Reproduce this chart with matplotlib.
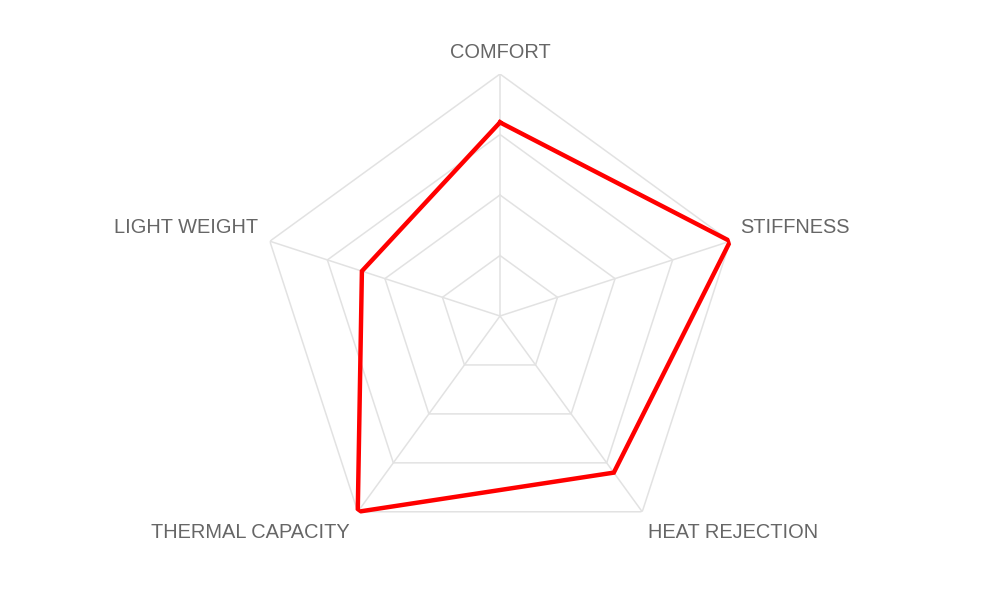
import numpy as np
import matplotlib
matplotlib.use("Agg")
import matplotlib.pyplot as plt

categories = ['COMFORT', 'STIFFNESS', 'HEAT REJECTION', 'THERMAL CAPACITY', 'LIGHT WEIGHT']
values = [80, 100, 80, 100, 60]
grid_levels = [25, 50, 75, 100]

# pixel offsets for the point labels, relative to the outer vertex
label_offsets = [(0, 21, 'center'), (10, 14, 'left'), (6, -21, 'left'),
                 (-8, -21, 'right'), (-12, 14, 'right')]

plt.rcParams['font.family'] = ['Liberation Sans', 'DejaVu Sans']

fig = plt.figure(figsize=(10, 6), dpi=100)
# center at (500, 316) px, radius 242 px
ax = fig.add_axes([0.258, 42 / 600, 0.484, 484 / 600], projection='polar')
ax.set_theta_offset(np.pi / 2)
ax.set_theta_direction(-1)
ax.set_ylim(0, 100)

n = len(categories)
theta = np.linspace(0, 2 * np.pi, n, endpoint=False)
theta_closed = np.append(theta, theta[0])

grid_color = '#e2e2e2'
for lvl in grid_levels:
    ax.plot(theta_closed, [lvl] * (n + 1), color=grid_color, lw=1.1, zorder=1)
for t in theta:
    ax.plot([t, t], [0, grid_levels[-1]], color=grid_color, lw=1.1, zorder=1)

vals = values + values[:1]
ax.plot(theta_closed, vals, color='#ff0000', lw=3.2, zorder=3, solid_joinstyle='miter')

for t, name, (dx, dy, ha) in zip(theta, categories, label_offsets):
    ax.annotate(name, xy=(t, grid_levels[-1]), xytext=(dx, dy),
                textcoords='offset pixels', ha=ha, va='center',
                fontsize=14.4, color='#666666', annotation_clip=False)

ax.grid(False)
ax.set_xticks([])
ax.set_yticks([])
ax.spines['polar'].set_visible(False)
ax.patch.set_alpha(0)

fig.savefig('out.png', dpi=100)
